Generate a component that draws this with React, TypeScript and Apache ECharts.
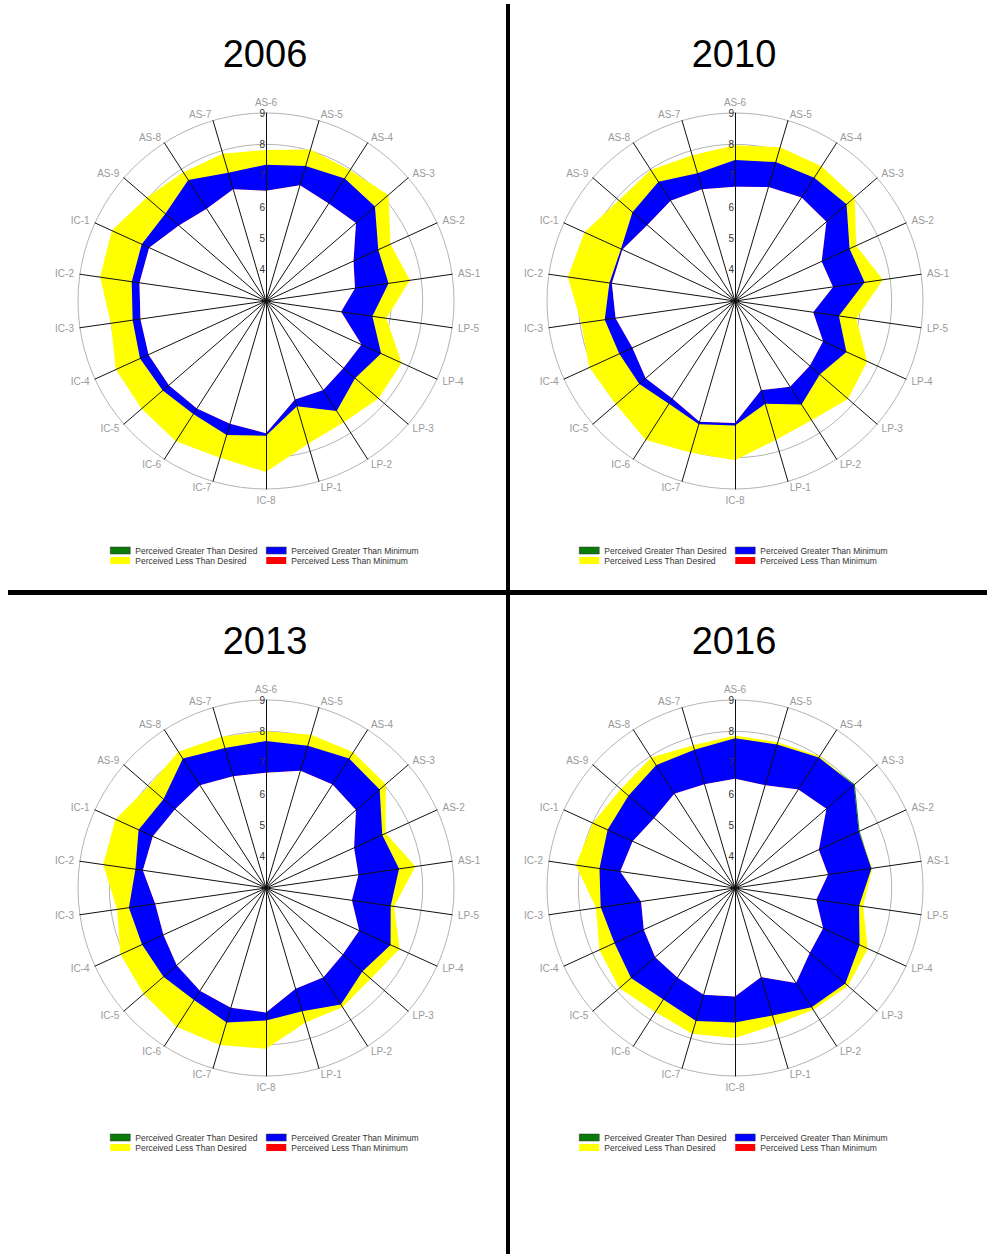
import React, { useEffect, useRef } from "react";
import * as echarts from "echarts";

// Axis categories, clockwise from the top
const categories = [
  "AS-6", "AS-5", "AS-4", "AS-3", "AS-2", "AS-1",
  "LP-5", "LP-4", "LP-3", "LP-2", "LP-1",
  "IC-8", "IC-7", "IC-6", "IC-5", "IC-4", "IC-3", "IC-2", "IC-1",
  "AS-9", "AS-8", "AS-7",
];

const years = ["2006", "2010", "2013", "2016"];

// 2006
const min2006 = [6.52, 6.85, 6.7, 6.8, 6.07, 5.87, 5.42, 6.35, 6.27, 6.38, 6.28, 7.22, 7.08, 7.08, 7.1, 7.12, 7.05, 7.08, 7.1, 6.68, 6.5, 6.72];
const perceived2006 = [7.35, 7.49, 7.65, 7.6, 6.94, 6.95, 6.43, 7.04, 6.76, 7.17, 6.5, 7.3, 7.46, 7.29, 7.36, 7.42, 7.3, 7.33, 7.36, 7.25, 7.59, 7.27];
const desired2006 = [7.82, 8.04, 7.96, 8.17, 7.37, 7.64, 6.88, 7.76, 7.75, 7.6, 7.75, 8.46, 8.21, 8.32, 8.25, 8.27, 8.0, 8.35, 8.41, 8.04, 7.88, 7.9];

// 2010
const min2010 = [6.65, 6.79, 6.93, 6.86, 6.04, 6.16, 5.52, 6.09, 6.16, 6.25, 5.96, 6.89, 7.02, 6.7, 6.77, 6.6, 6.85, 6.97, 6.95, 6.7, 6.8, 6.72];
const perceived2010 = [7.5, 7.62, 7.68, 7.71, 7.02, 7.18, 6.35, 6.91, 6.58, 6.93, 6.42, 6.97, 7.1, 6.9, 7.04, 7.06, 7.2, 7.05, 7.0, 7.33, 7.52, 7.25];
const desired2010 = [7.97, 8.11, 8.11, 8.06, 7.25, 7.77, 6.91, 7.64, 7.77, 7.52, 7.62, 8.08, 8.04, 8.27, 8.03, 8.11, 7.96, 8.39, 8.28, 7.91, 7.97, 7.85];

// 2013
const min2013 = [6.68, 6.9, 6.93, 6.8, 6.09, 5.98, 5.77, 6.27, 6.24, 6.39, 6.35, 6.97, 6.98, 6.9, 6.77, 6.6, 6.57, 6.97, 6.97, 6.84, 6.9, 6.72];
const perceived2013 = [7.69, 7.73, 7.91, 7.8, 7.08, 7.29, 7.02, 7.37, 7.07, 7.42, 7.1, 7.23, 7.47, 7.25, 7.33, 7.35, 7.42, 7.21, 7.47, 7.33, 7.91, 7.66];
const desired2013 = [8.0, 8.1, 8.15, 8.06, 7.2, 7.82, 7.13, 7.69, 7.42, 7.52, 7.47, 8.13, 8.22, 8.27, 8.16, 8.11, 7.8, 8.25, 8.28, 7.96, 8.17, 8.03];

// 2016
const min2016 = [6.49, 6.42, 6.74, 6.86, 5.94, 6.0, 5.62, 6.09, 6.16, 6.6, 5.96, 6.46, 6.55, 6.4, 6.37, 6.2, 6.03, 6.7, 6.59, 6.41, 6.58, 6.45];
const perceived2016 = [7.78, 7.77, 7.95, 8.06, 7.37, 7.4, 7.0, 7.37, 7.66, 7.52, 7.24, 7.29, 7.42, 7.23, 7.39, 7.23, 7.33, 7.37, 7.47, 7.5, 7.66, 7.6];
const desired2016 = [7.87, 7.85, 8.0, 8.02, 7.34, 7.43, 7.13, 7.66, 7.77, 7.62, 7.55, 7.79, 7.85, 7.7, 7.88, 7.76, 7.48, 8.13, 7.99, 7.82, 7.95, 7.75];

const minimums = [min2006, min2010, min2013, min2016];
const perceiveds = [perceived2006, perceived2010, perceived2013, perceived2016];
const desireds = [desired2006, desired2010, desired2013, desired2016];

const scaleMin = 3;
const scaleMax = 9;

const legendNames = [
  "Perceived Greater Than Desired",
  "Perceived Less Than Desired",
  "Perceived Greater Than Minimum",
  "Perceived Less Than Minimum",
];

const COLORS = {
  green: "#0a7a0a",
  yellow: "#ffff00",
  blue: "#0000ff",
  red: "#ff0000",
};

const FONT = "Arial, 'Liberation Sans', sans-serif";

export default function App() {
  const ref = useRef<HTMLDivElement>(null);

  useEffect(() => {
    if (!ref.current) return;
    const chart = echarts.init(ref.current, undefined, { renderer: "svg" });

    const n = categories.length;
    // ECharts lays indicators counter-clockwise; reorder so they read clockwise
    const order = categories.map((_, i) => (i === 0 ? 0 : n - i));
    const reorder = (arr: number[]) => order.map((i) => arr[i]);

    const centers = [
      [266, 301],
      [735, 301],
      [266, 888],
      [735, 888],
    ];
    const radius = 188;

    const radars: any[] = [];
    const series: any[] = [];
    const legends: any[] = [];
    const graphics: any[] = [];

    years.forEach((year, p) => {
      const [cx, cy] = centers[p];
      const baseIndicators = order.map((i) => ({
        name: categories[i],
        min: scaleMin,
        max: scaleMax,
      }));
      // base radar: circles + names
      radars.push({
        center: [cx, cy],
        radius,
        startAngle: 90,
        shape: "circle",
        splitNumber: 6,
        z: 1,
        indicator: baseIndicators,
        axisName: {
          color: "#9a9a9a",
          fontSize: 10,
          fontFamily: FONT,
        },
        axisNameGap: 6,
        splitLine: { show: true, lineStyle: { color: "#b4b4b4", width: 1 } },
        splitArea: { show: false },
        axisLine: { show: false },
        axisTick: { show: false },
        axisLabel: { show: false },
      });
      // overlay radar: spokes and scale labels on top of the fills
      radars.push({
        center: [cx, cy],
        radius,
        startAngle: 90,
        shape: "circle",
        splitNumber: 6,
        z: 10,
        indicator: order.map((i, k) => ({
          name: categories[i],
          min: scaleMin,
          max: scaleMax,
          ...(k === 0
            ? {
                axisLabel: {
                  show: true,
                  showMinLabel: false,
                  fontSize: 10,
                  color: "#333",
                  fontFamily: FONT,
                  margin: 1,
                },
              }
            : {}),
        })),
        axisName: { show: false },
        splitLine: { show: false },
        splitArea: { show: false },
        axisLine: { show: true, lineStyle: { color: "#111", width: 1 } },
        axisTick: { show: false },
        axisLabel: { show: false },
      });

      const M = minimums[p];
      const P = perceiveds[p];
      const D = desireds[p];
      const blueEdge = P.map((v, i) => Math.min(v, D[i]));
      const maskEdge = P.map((v, i) => Math.min(v, M[i]));

      const item = (name: string, values: number[], color: string) => ({
        name,
        value: reorder(values),
        symbol: "none",
        itemStyle: { color },
        lineStyle: { width: 0, opacity: 0 },
        areaStyle: { color, opacity: 1 },
      });

      series.push({
        type: "radar",
        radarIndex: p * 2,
        silent: true,
        symbol: "none",
        z: 2,
        data: [
          item(legendNames[0], P, COLORS.green),
          item(legendNames[1], D, COLORS.yellow),
          item(legendNames[2], blueEdge, COLORS.blue),
          item(legendNames[3], M, COLORS.red),
          item("mask", maskEdge, "#ffffff"),
        ],
      });

      const lx = cx - 156;
      const ly = cy + 245;
      const legendBase = {
        orient: "vertical",
        top: ly,
        itemWidth: 20,
        itemHeight: 7,
        itemGap: 1,
        icon: "rect",
        selectedMode: false,
        padding: 0,
        textStyle: { fontSize: 8.5, color: "#333", fontFamily: FONT },
      };
      legends.push({
        ...legendBase,
        left: lx,
        data: [
          { name: legendNames[0], itemStyle: { color: COLORS.green, borderColor: "#333", borderWidth: 0.5 } },
          { name: legendNames[1], itemStyle: { color: COLORS.yellow, borderWidth: 0 } },
        ],
      });
      legends.push({
        ...legendBase,
        left: lx + 156,
        data: [
          { name: legendNames[2], itemStyle: { color: COLORS.blue, borderColor: "#333", borderWidth: 0.5 } },
          { name: legendNames[3], itemStyle: { color: COLORS.red, borderWidth: 0 } },
        ],
      });

      graphics.push({
        type: "text",
        x: cx - 1,
        y: cy - 247,
        style: {
          text: year,
          fontSize: 38,
          fontFamily: FONT,
          fill: "#000",
          textAlign: "center",
          textVerticalAlign: "middle",
        },
        z: 20,
      });
    });

    // panel dividers
    graphics.push({
      type: "rect",
      shape: { x: 506, y: 4, width: 4, height: 1254 },
      style: { fill: "#000" },
      z: 20,
    });
    graphics.push({
      type: "rect",
      shape: { x: 8, y: 590, width: 979, height: 5 },
      style: { fill: "#000" },
      z: 20,
    });

    chart.setOption({
      animation: false,
      backgroundColor: "#ffffff",
      radar: radars,
      series,
      legend: legends,
      graphic: graphics,
    });

    return () => chart.dispose();
  }, []);

  return (
    <div
      ref={ref}
      style={{
        position: "fixed",
        left: 0,
        top: 0,
        width: 987,
        height: 1254,
        background: "#fff",
      }}
    />
  );
}
